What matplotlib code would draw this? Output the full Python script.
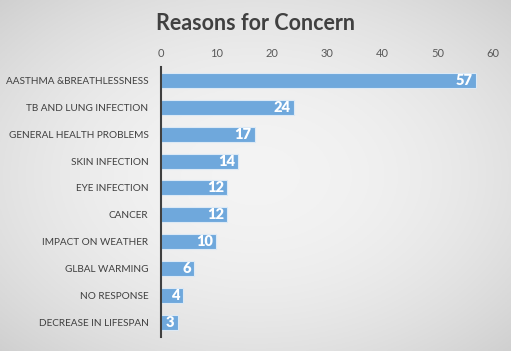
import numpy as np
import matplotlib
matplotlib.use("Agg")
import matplotlib.pyplot as plt

plt.rcParams["font.family"] = ["Lato", "DejaVu Sans"]

reasons = [
    "AASTHMA &BREATHLESSNESS",
    "TB AND LUNG INFECTION",
    "GENERAL HEALTH PROBLEMS",
    "SKIN INFECTION",
    "EYE INFECTION",
    "CANCER",
    "IMPACT ON WEATHER",
    "GLBAL WARMING",
    "NO RESPONSE",
    "DECREASE IN LIFESPAN",
]
counts = [57, 24, 17, 14, 12, 12, 10, 6, 4, 3]
x_ticks = [0, 10, 20, 30, 40, 50, 60]

fig = plt.figure(figsize=(5.11, 3.51), dpi=100)

# radial grey background, light in the middle, darker towards the corners
bg = fig.add_axes([0, 0, 1, 1], zorder=-10)
yy, xx = np.mgrid[-1:1:200j, -1:1:300j]
r2 = (xx ** 2 + yy ** 2) / 2
grey = 0.955 - 0.14 * r2
bg.imshow(np.dstack([grey, grey, grey]), aspect="auto", extent=[0, 1, 0, 1])
bg.set_axis_off()

ax = fig.add_axes([161 / 511, 1 - 337 / 351, (493 - 161) / 511, (337 - 67) / 351])
ax.set_facecolor("none")

y = np.arange(len(reasons))
ax.barh(y, counts, height=0.56, color="#6fa8dc", edgecolor="#dce9f5", linewidth=0.8)
for yi, v in zip(y, counts):
    ax.text(v - 0.6, yi, str(v), ha="right", va="center", color="white",
            fontsize=10.5, fontweight="heavy")

ax.set_xlim(0, 60)
ax.set_ylim(len(reasons) - 0.45, -0.5)
ax.set_xticks(x_ticks)
ax.xaxis.tick_top()
ax.set_yticks(y)
ax.set_yticklabels(reasons)
ax.tick_params(axis="x", length=0, pad=6, labelsize=8, labelcolor="#595959")
ax.tick_params(axis="y", length=0, pad=9, labelsize=7.2, labelcolor="#404040")
for s in ["top", "right", "bottom"]:
    ax.spines[s].set_visible(False)
ax.spines["left"].set_color("#404040")
ax.spines["left"].set_linewidth(1.5)

fig.text(0.5, 1 - 23 / 351, "Reasons for Concern", ha="center", va="center",
         fontsize=15.5, fontweight="bold", color="#404040")

fig.savefig("out.png", dpi=100)
